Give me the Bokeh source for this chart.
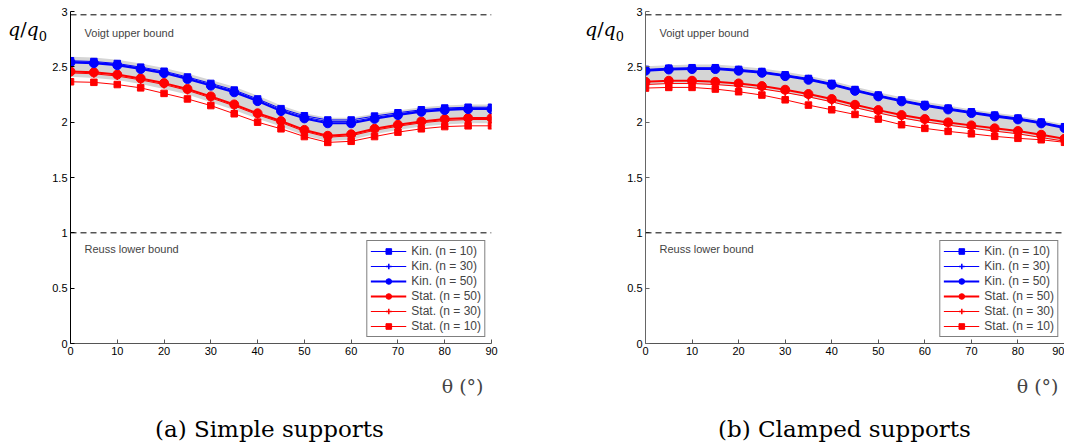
from bokeh.plotting import figure
from bokeh.models import (Span, Label, Legend, LegendItem, Range1d, FixedTicker,
                          CustomJSTickFormatter, Title, Div)
from bokeh.layouts import row, column
from bokeh.embed import file_html
from bokeh.resources import INLINE

theta = [0, 5, 10, 15, 20, 25, 30, 35, 40, 45, 50, 55, 60, 65, 70, 75, 80, 85, 90]

voigt = 2.97
reuss = 1.0

# (a) Simple supports
a_kin10 = [2.555, 2.548, 2.53, 2.497, 2.46, 2.408, 2.35, 2.29, 2.21, 2.122, 2.058, 2.02, 2.02, 2.055, 2.085, 2.112, 2.128, 2.135, 2.135]
a_kin30 = [2.547, 2.54, 2.522, 2.488, 2.451, 2.399, 2.34, 2.28, 2.2, 2.111, 2.046, 2.005, 2.005, 2.042, 2.074, 2.103, 2.119, 2.127, 2.127]
a_kin50 = [2.54, 2.533, 2.515, 2.48, 2.443, 2.39, 2.33, 2.27, 2.19, 2.10, 2.034, 1.99, 1.99, 2.03, 2.064, 2.094, 2.11, 2.118, 2.118]
a_stat50 = [2.458, 2.45, 2.43, 2.395, 2.353, 2.30, 2.233, 2.16, 2.08, 2.01, 1.93, 1.877, 1.89, 1.94, 1.976, 2.007, 2.028, 2.037, 2.037]
a_stat30 = [2.445, 2.437, 2.417, 2.382, 2.34, 2.287, 2.22, 2.147, 2.067, 1.997, 1.917, 1.864, 1.877, 1.927, 1.963, 1.994, 2.015, 2.024, 2.024]
a_stat10 = [2.365, 2.36, 2.34, 2.31, 2.26, 2.21, 2.15, 2.076, 2.00, 1.94, 1.87, 1.817, 1.827, 1.87, 1.91, 1.94, 1.96, 1.967, 1.967]
a_band_hi = [2.59, 2.585, 2.565, 2.53, 2.49, 2.44, 2.38, 2.32, 2.24, 2.15, 2.08, 2.04, 2.04, 2.075, 2.105, 2.135, 2.15, 2.16, 2.16]
a_band_lo = [2.41, 2.40, 2.38, 2.345, 2.30, 2.25, 2.18, 2.11, 2.03, 1.96, 1.88, 1.83, 1.84, 1.89, 1.93, 1.96, 1.98, 1.99, 1.99]

# (b) Clamped supports
b_kin10 = [2.477, 2.488, 2.492, 2.492, 2.477, 2.458, 2.428, 2.395, 2.35, 2.295, 2.245, 2.2, 2.16, 2.127, 2.094, 2.064, 2.037, 2.001, 1.959]
b_kin30 = [2.472, 2.483, 2.487, 2.487, 2.472, 2.453, 2.423, 2.39, 2.345, 2.29, 2.24, 2.195, 2.155, 2.122, 2.089, 2.059, 2.032, 1.996, 1.954]
b_kin50 = [2.465, 2.476, 2.48, 2.48, 2.465, 2.446, 2.416, 2.383, 2.338, 2.283, 2.233, 2.188, 2.148, 2.115, 2.082, 2.052, 2.025, 1.989, 1.947]
b_stat50 = [2.365, 2.374, 2.374, 2.365, 2.35, 2.326, 2.293, 2.254, 2.209, 2.157, 2.109, 2.064, 2.028, 1.998, 1.971, 1.944, 1.92, 1.886, 1.85]
b_stat30 = [2.34, 2.349, 2.349, 2.34, 2.325, 2.301, 2.268, 2.229, 2.184, 2.132, 2.084, 2.039, 2.003, 1.973, 1.946, 1.919, 1.895, 1.861, 1.828]
b_stat10 = [2.308, 2.314, 2.314, 2.299, 2.275, 2.245, 2.202, 2.154, 2.112, 2.07, 2.028, 1.977, 1.944, 1.917, 1.895, 1.872, 1.854, 1.841, 1.818]
b_band_hi = [2.505, 2.515, 2.52, 2.52, 2.505, 2.485, 2.455, 2.42, 2.375, 2.32, 2.27, 2.225, 2.185, 2.15, 2.115, 2.085, 2.058, 2.02, 1.98]
b_band_lo = [2.34, 2.35, 2.35, 2.34, 2.325, 2.30, 2.265, 2.225, 2.18, 2.13, 2.08, 2.035, 2.0, 1.97, 1.945, 1.918, 1.893, 1.86, 1.825]

x_ticks = [0, 10, 20, 30, 40, 50, 60, 70, 80, 90]
y_ticks = [0, 0.5, 1, 1.5, 2, 2.5, 3]
legend_labels = ["Kin. (n = 10)", "Kin. (n = 30)", "Kin. (n = 50)",
                 "Stat. (n = 50)", "Stat. (n = 30)", "Stat. (n = 10)"]
captions = ["(a) Simple supports", "(b) Clamped supports"]
x_label = "\u03b8 (\u00b0)"
y_label_html = "<i>q</i>/<i>q</i><sub style='font-size:13px'>0</sub>"

SANS = "Liberation Sans"
SERIF = "DejaVu Serif"
BLUE = "#0000ff"
RED = "#ff0000"
H = 413


def make_panel(width, bl, br, kin10, kin30, kin50, stat50, stat30, stat10, hi, lo,
               ycol, xoff):
    p = figure(width=width, height=H, output_backend="svg", toolbar_location=None,
               x_range=Range1d(0, 90), y_range=Range1d(0, 3),
               min_border_left=bl, min_border_right=br, min_border_top=11,
               min_border_bottom=H - 11 - 332)
    p.outline_line_color = None
    p.xgrid.visible = False
    p.ygrid.visible = False
    p.background_fill_color = "white"

    for ax, ticks, col in ((p.xaxis[0], x_ticks, "#555555"), (p.yaxis[0], y_ticks, ycol)):
        ax.ticker = FixedTicker(ticks=ticks)
        ax.formatter = CustomJSTickFormatter(code="return tick.toString();")
        ax.major_tick_in = 4
        ax.major_tick_out = 0
        ax.minor_tick_line_color = None
        ax.axis_line_color = col
        ax.major_tick_line_color = col
        ax.major_label_text_font = SANS
        ax.major_label_text_font_size = "11px"
        ax.major_label_text_color = "black"
    p.xaxis[0].major_label_standoff = 3
    p.yaxis[0].major_label_standoff = 3

    p.varea(x=theta, y1=lo, y2=hi, fill_color="#d5d5d5", fill_alpha=1.0)

    p.add_layout(Span(location=voigt, dimension="width", line_color="black",
                      line_dash="6 4", line_width=1))
    p.add_layout(Span(location=reuss, dimension="width", line_color="black",
                      line_dash="6 4", line_width=1))

    specs = [
        (stat10, RED, 1, "square", 6.5, 5),
        (stat30, RED, 1, "cross", 8, 4),
        (stat50, RED, 2, "circle", 9, 3),
        (kin10, BLUE, 1, "square", 6.5, 0),
        (kin30, BLUE, 1, "cross", 8, 1),
        (kin50, BLUE, 2, "circle", 9, 2),
    ]
    items = [None] * 6
    for ys, col, lw, mk, sz, idx in specs:
        lr = p.line(theta, ys, line_color=col, line_width=lw)
        sr = p.scatter(theta, ys, marker=mk, size=sz, fill_color=col, line_color=col,
                       line_width=1.5 if mk == "cross" else 1)
        items[idx] = LegendItem(label=legend_labels[idx], renderers=[lr, sr])

    leg = Legend(items=items, location="bottom_right")
    leg.margin = 6
    leg.padding = 3
    leg.spacing = 1
    leg.glyph_width = 36
    leg.glyph_height = 14
    leg.label_height = 14
    leg.label_standoff = 5
    leg.label_text_font = SANS
    leg.label_text_font_size = "12px"
    leg.border_line_color = "black"
    leg.border_line_width = 1.5
    leg.background_fill_alpha = 1.0
    p.add_layout(leg)

    p.add_layout(Label(x=3, y=2.807, text="Voigt upper bound", text_font=SANS,
                       text_font_size="11px", text_baseline="middle"))
    p.add_layout(Label(x=3, y=0.857, text="Reuss lower bound", text_font=SANS,
                       text_font_size="11px", text_baseline="middle"))

    p.add_layout(Title(text=x_label, align="right", offset=xoff, standoff=31,
                       text_font=SERIF, text_font_size="19px", text_font_style="normal"),
                 "below")
    return p


def ylabel_div(width):
    return Div(text=y_label_html, width=width, height=H, margin=0,
               styles={"font-family": "DejaVu Serif", "font-size": "19px",
                       "padding-top": "16px", "padding-left": "8px",
                       "white-space": "nowrap", "color": "black",
                       "overflow": "visible"})


def caption_div(text, width, left):
    return Div(text=text, width=width, height=444 - H, margin=0,
               styles={"font-family": "DejaVu Serif", "font-size": "23px",
                       "line-height": "27px", "padding-top": "3px",
                       "padding-left": "%dpx" % left, "white-space": "nowrap",
                       "color": "black"})


pa = make_panel(528, 20, 86, a_kin10, a_kin30, a_kin50, a_stat50, a_stat30, a_stat10,
                a_band_hi, a_band_lo, "black", 8)
pb = make_panel(441, 22, 0, b_kin10, b_kin30, b_kin50, b_stat50, b_stat30, b_stat10,
                b_band_hi, b_band_lo, "#666666", 6)

plots = row(ylabel_div(49), pa, ylabel_div(46), pb)
caps = row(caption_div(captions[0], 577, 155), caption_div(captions[1], 487, 141))
layout = column(plots, caps)
open("out.html", "w").write(file_html(layout, INLINE))
